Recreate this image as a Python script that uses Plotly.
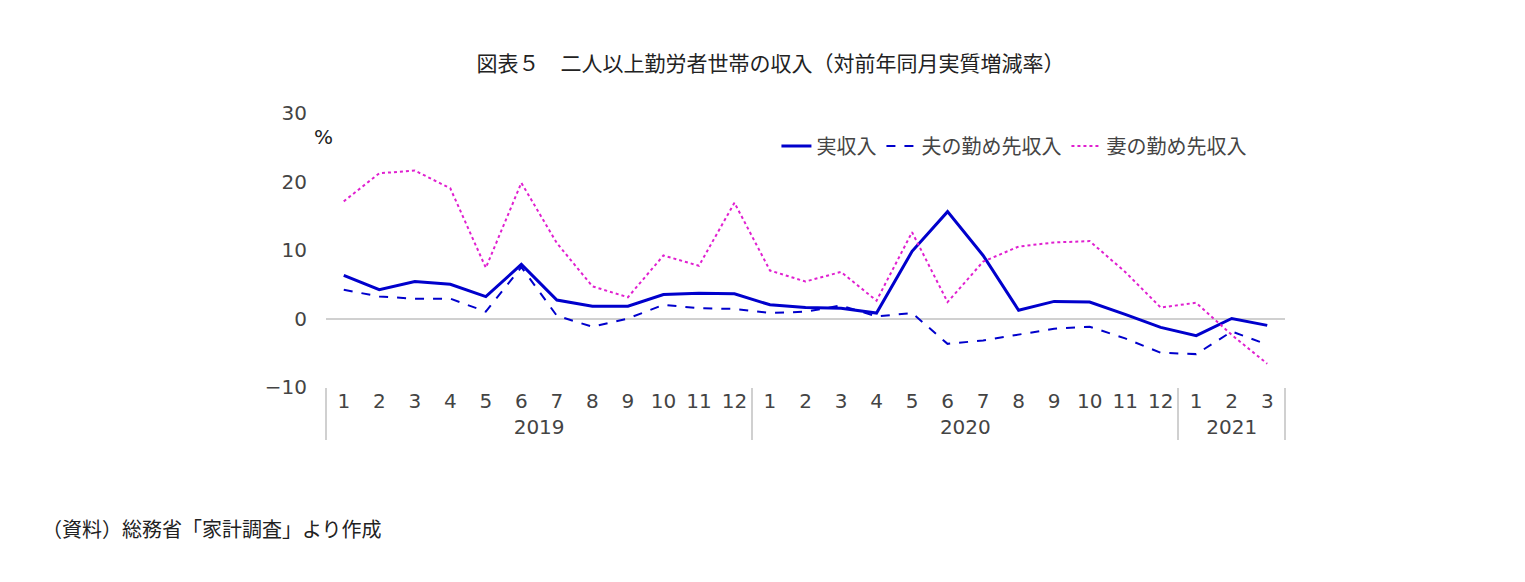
import plotly.graph_objects as go

years = ["2019"] * 12 + ["2020"] * 12 + ["2021"] * 3
months = [str(m) for m in range(1, 13)] * 2 + ["1", "2", "3"]

jitsu = [6.3, 4.2, 5.4, 5.0, 3.2, 7.9, 2.7, 1.8, 1.8, 3.5, 3.7, 3.6,
         2.0, 1.6, 1.5, 0.8, 9.8, 15.6, 9.2, 1.2, 2.5, 2.4, 0.6, -1.3,
         -2.5, 0.0, -1.0]
otto = [4.2, 3.2, 2.9, 2.9, 1.0, 7.5, 0.4, -1.2, 0.0, 2.0, 1.5, 1.4,
        0.8, 1.0, 1.9, 0.3, 0.8, -3.7, -3.2, -2.4, -1.5, -1.2, -2.9, -5.0,
        -5.2, -1.9, -3.8]
tsuma = [17.1, 21.2, 21.6, 19.0, 7.4, 19.8, 11.0, 4.7, 3.1, 9.2, 7.7, 16.9,
         7.0, 5.4, 6.8, 2.6, 12.6, 2.4, 8.3, 10.5, 11.1, 11.3, 6.8, 1.6,
         2.3, -2.4, -6.6]

jp = "Noto Sans CJK JP"
num = "Verdana, DejaVu Sans"
x = [years, months]

fig = go.Figure()
fig.add_scatter(x=x, y=jitsu, mode="lines", name="実収入",
                line=dict(color="#0000CC", width=3))
fig.add_scatter(x=x, y=otto, mode="lines", name="夫の勤め先収入",
                line=dict(color="#0000CC", width=2, dash="dash"))
fig.add_scatter(x=x, y=tsuma, mode="lines", name="妻の勤め先収入",
                line=dict(color="#E020D0", width=2, dash="dot"))

fig.update_layout(
    width=1525, height=582,
    margin=dict(l=318, r=248, t=105, b=203),
    plot_bgcolor="white", paper_bgcolor="white",
    font=dict(family=jp, size=20, color="#444"),
    title=dict(text="図表５　二人以上勤労者世帯の収入（対前年同月実質増減率）",
               x=0.5, y=0.905, xanchor="center", yanchor="middle",
               font=dict(family=jp, size=21, color="#222")),
    showlegend=True,
    legend=dict(orientation="h", x=0.965, xanchor="right", y=0.88, yanchor="middle",
                font=dict(family=jp, size=20, color="#444"), bgcolor="rgba(0,0,0,0)"),
    xaxis=dict(type="multicategory", range=[-0.5, 26.5], showgrid=False, showline=False,
               zeroline=False, tickfont=dict(family=num, size=20, color="#444"),
               dividercolor="#d0d0d0", dividerwidth=2, ticks=""),
    yaxis=dict(range=[-10, 30], dtick=10, showgrid=False, showline=False,
               zeroline=True, zerolinecolor="#d0d0d0", zerolinewidth=2,
               tickfont=dict(family=num, size=20, color="#444"),
               ticklabelstandoff=18),
)
fig.add_annotation(text="%", x=-0.015, xref="paper", y=26.5, yref="y", xanchor="left",
                   showarrow=False, font=dict(family=num, size=20, color="#222"))
fig.add_annotation(text="（資料）総務省「家計調査」より作成", x=-286 / 959,
                   xref="paper", xanchor="left", y=-0.515, yref="paper",
                   yanchor="middle", showarrow=False,
                   font=dict(family=jp, size=20, color="#222"))

fig.write_html("out.html")
